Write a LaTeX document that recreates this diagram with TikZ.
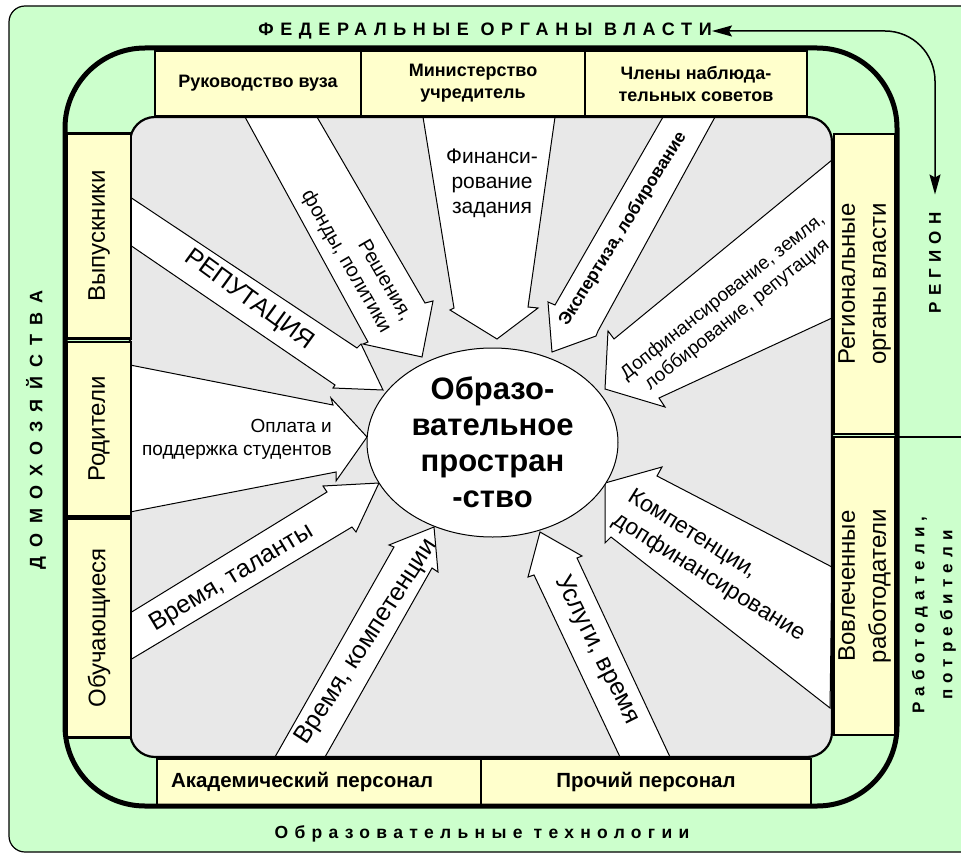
\documentclass[tikz,border=0pt]{standalone}
\usepackage{fontspec}
\setmainfont{Liberation Sans}
\usetikzlibrary{arrows.meta,shapes.geometric}
\definecolor{bandgreen}{HTML}{CCFFCC}
\definecolor{cellyellow}{HTML}{FFFFCC}
\definecolor{fieldgrey}{HTML}{E8E8E8}

\begin{document}
\begin{tikzpicture}[x=1pt,y=-1pt,>=Stealth,
    cell/.style={draw,line width=2.4pt,fill=cellyellow,inner sep=0pt,align=center,
      font=\bfseries\fontsize{18}{22}\selectfont},
    sidecell/.style={cell,rotate=90,font=\fontsize{24}{31}\selectfont},
    flow/.style={draw,fill=white,line width=1pt,line join=miter},
    flowtext/.style={inner sep=0pt,font=\fontsize{25}{30}\selectfont},
    band/.style={inner sep=0pt,font=\bfseries\fontsize{18}{28}\selectfont\addfontfeature{LetterSpace=37}}]
    % Picture area in pixels of the original (y downwards)
    \useasboundingbox (0,0) rectangle (961,856);
    \clip (0,0) rectangle (961,856);
    % Outer green band
    \draw[fill=bandgreen,line width=1.2,rounded corners=16] (9,6) rectangle (1000,852);
    % Grey field
    \fill[fieldgrey,rounded corners=25] (130,117) rectangle (832,757);
    % Flows into the centre (tail, neck, barb, tip, barb, neck, tail)
    \draw[flow] (245,117) -- (368,342) -- (363,344) -- (422,357) -- (433,301) -- (425,303) -- (317,117) -- cycle;
    \draw[flow] (423,117) -- (454,308) -- (450,310) -- (497,339) -- (538,308) -- (528,307) -- (555,117) -- cycle;
    \draw[flow] (663,117) -- (555,305) -- (548,302) -- (552,352) -- (596,336) -- (598,331) -- (715,117) -- cycle;
    \draw[flow] (832,160) -- (614,339) -- (608,331) -- (605,389) -- (665,407) -- (659,398) -- (832,318) -- cycle;
    \draw[flow] (832,567) -- (657,476) -- (662,467) -- (605,483) -- (605,543) -- (611,537) -- (830,708) -- cycle;
    \draw[flow] (620,757) -- (534,575) -- (528,577) -- (540,532) -- (582,556) -- (577,558) -- (670,757) -- cycle;
    \draw[flow] (275,757) -- (394,547) -- (389,545) -- (434,527) -- (438,572) -- (432,568) -- (325,757) -- cycle;
    \draw[flow] (130,613) -- (327,492) -- (323,486) -- (379,483) -- (356,532) -- (352,527) -- (130,660) -- cycle;
    \draw[flow] (130,365) -- (333,405) -- (331,398) -- (367,437) -- (336,481) -- (336,472) -- (130,512) -- cycle;
    \draw[flow] (130,197) -- (357,348) -- (361,344) -- (383,390) -- (333,388) -- (335,385) -- (130,245) -- cycle;
    \draw[line width=2.2,rounded corners=25] (130,117) rectangle (832,757);
    % Flow labels
    \node[flowtext,rotate=-60,align=right,font=\fontsize{20}{24}\selectfont] (decisions) at (356,256) {Решения,\\фонды, политики};
    \node[flowtext,align=center,font=\fontsize{21}{25}\selectfont] (funding) at (492,183) {Финанси-\\рование\\задания};
    \node[flowtext,rotate=58,font=\bfseries\fontsize{17.5}{21}\selectfont] (expertise) at (623,229) {Экспертиза, лобирование};
    \node[flowtext,rotate=38.5,align=center,font=\fontsize{19}{23}\selectfont] (cofunding) at (730,306) {Допфинансирование, земля,\\лоббирование, репутация};
    \node[flowtext,rotate=-32,align=left,font=\fontsize{23}{28}\selectfont] (skills) at (716,566) {Компетенции,\\допфинансирование};
    \node[flowtext,rotate=-63.4] (services) at (597,650) {Услуги, время};
    \node[flowtext,rotate=57] (timeskills) at (367,642) {Время, компетенции};
    \node[flowtext,rotate=31] (talents) at (232,578) {Время, таланты};
    \node[flowtext,rotate=-36] (reputation) at (249,300) {РЕПУТАЦИЯ};
    \node[flowtext,anchor=east,align=right,font=\fontsize{19}{23}\selectfont] (payment) at (332,439) {Оплата и\\поддержка студентов};
    % Centre
    \node[ellipse,draw,fill=white,line width=1pt,minimum width=251,minimum height=189,inner sep=0pt,align=center,
      font=\bfseries\fontsize{31}{36}\selectfont] (space) at (492.5,442.5) {Образо-\\вательное\\простран\\-ство};
    % Top row
    \node[cell,minimum width=206,minimum height=65] (rector) at (258,83.5) {Руководство вуза};
    \node[cell,minimum width=224,minimum height=65] (ministry) at (473,83.5) {Министерство\\учредитель};
    \node[cell,minimum width=222,minimum height=65] (board) at (696,83.5) {Члены наблюда-\\тельных советов};
    % Left column
    \node[sidecell,minimum width=205,minimum height=64] (alumni) at (99,236) {Выпускники};
    \node[sidecell,minimum width=174,minimum height=64] (parents) at (99,429) {Родители};
    \node[sidecell,minimum width=219,minimum height=64] (learners) at (99,628) {Обучающиеся};
    % Right column
    \node[sidecell,align=center,minimum width=300,minimum height=61] (regional) at (864.5,284) {Региональные\\органы власти};
    \node[sidecell,align=center,minimum width=298,minimum height=61] (employers) at (864.5,586) {Вовлеченные\\работодатели};
    % Bottom row
    \node[cell,minimum width=324,minimum height=46,text width=296,align=left,font=\bfseries\fontsize{20.5}{24}\selectfont] (academic) at (319,782) {Академический персонал};
    \node[cell,minimum width=330,minimum height=46,font=\bfseries\fontsize{20.5}{24}\selectfont] (staff) at (646,782) {Прочий персонал};
    % Thick frame
    \draw[line width=5,rounded corners=80] (65,48) rectangle (897,806);
    \draw[line width=1.5] (897,437) -- (961,437);
    % Band labels
    \node[band] (federal) at (485,31) {ФЕДЕРАЛЬНЫЕ ОРГАНЫ ВЛАСТИ};
    \node[band,font=\bfseries\fontsize{17.5}{28}\selectfont\addfontfeature{LetterSpace=36}] (technology) at (482,834) {Образовательные технологии};
    \node[band,font=\bfseries\fontsize{17}{28}\selectfont\addfontfeature{LetterSpace=36}] (region) at (935,263) [rotate=90] {РЕГИОН};
    \node[band,rotate=90,align=center,font=\bfseries\fontsize{17}{28}\selectfont\addfontfeature{LetterSpace=36}] (consumers) at (934,615) {Работодатели,\\потребители};
    \node[band,rotate=90,font=\bfseries\fontsize{18}{22}\selectfont\addfontfeature{LetterSpace=52}] (households) at (36,430) {ДОМОХОЗЯЙСТВА};
    \draw[line width=1.5,{Stealth[length=20pt,width=11pt,inset=3pt]}-{Stealth[length=20pt,width=11pt,inset=3pt]},
      rounded corners=50,shorten >=18pt] (federal.east) -| (region.east);
\end{tikzpicture}
\end{document}
